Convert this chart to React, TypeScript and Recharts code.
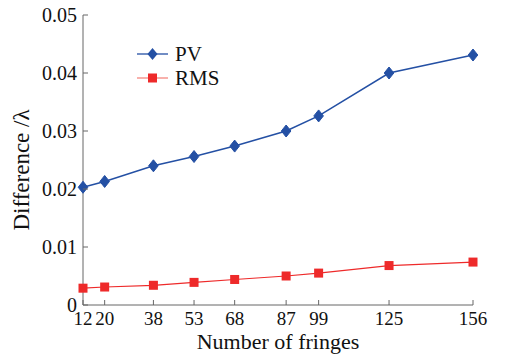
import { LineChart, Line, XAxis, YAxis, Legend } from "recharts";

const fringes = [12, 20, 38, 53, 68, 87, 99, 125, 156];
const pvValues = [0.0203, 0.0213, 0.024, 0.0256, 0.0274, 0.03, 0.0326, 0.04, 0.0431];
const rmsValues = [0.0029, 0.0031, 0.0034, 0.0039, 0.0044, 0.005, 0.0055, 0.0068, 0.0074];
const yTicks = [0, 0.01, 0.02, 0.03, 0.04, 0.05];
const yTickLabels = ["0", "0.01", "0.02", "0.03", "0.04", "0.05"];

const data = fringes.map((n, i) => ({ n, pv: pvValues[i], rms: rmsValues[i] }));

const FONT = "Liberation Serif, Times New Roman, serif";
const AXIS = "#666";
const BLUE = "#2450a4";
const RED = "#ee2a2a";

function BottomTick(props: any) {
  const { x, y, payload } = props;
  return (
    <g>
      <line x1={x} x2={x} y1={y} y2={y - 5} stroke={AXIS} />
      <text x={x} y={y + 20} textAnchor="middle" fontSize={19} fontFamily={FONT} fill="#111">
        {payload.value}
      </text>
    </g>
  );
}

function TopTick(props: any) {
  const { x, y } = props;
  return <line x1={x} x2={x} y1={y} y2={y + 5} stroke={AXIS} />;
}

function LeftTick(props: any) {
  const { x, y, payload, index } = props;
  return (
    <g>
      <line x1={x} x2={x + 5} y1={y} y2={y} stroke={AXIS} />
      <text x={x - 6} y={y} dy="0.35em" textAnchor="end" fontSize={20} fontFamily={FONT} fill="#111">
        {yTickLabels[index] ?? payload.value}
      </text>
    </g>
  );
}

function RightTick(props: any) {
  const { x, y } = props;
  return <line x1={x} x2={x - 5} y1={y} y2={y} stroke={AXIS} />;
}

function YLabel(props: any) {
  const vb = props.viewBox || { x: 0, y: 15, height: 290 };
  const cx = vb.x + 21;
  const cy = vb.y + vb.height / 2 + 10;
  return (
    <text
      x={cx}
      y={cy}
      transform={`rotate(-90, ${cx}, ${cy})`}
      textAnchor="middle"
      dy="0.35em"
      fontSize={23}
      fontFamily={FONT}
      fill="#111"
    >
      Difference /λ
    </text>
  );
}

function Diamond(props: any) {
  const { cx, cy } = props;
  if (cx == null || cy == null) return null;
  const r = 6;
  return (
    <polygon
      points={`${cx},${cy - r} ${cx + r * 0.8},${cy} ${cx},${cy + r} ${cx - r * 0.8},${cy}`}
      fill={BLUE}
      stroke={BLUE}
    />
  );
}

function Square(props: any) {
  const { cx, cy } = props;
  if (cx == null || cy == null) return null;
  return <rect x={cx - 4.5} y={cy - 4.5} width={9} height={9} fill={RED} />;
}

function LegendBox() {
  const rows = [
    { name: "PV", color: BLUE, marker: "diamond" },
    { name: "RMS", color: "#f4877f", marker: "square" },
  ];
  return (
    <div style={{ fontFamily: FONT, fontSize: 21, color: "#111", lineHeight: "24px" }}>
      {rows.map((r) => (
        <div key={r.name} style={{ display: "flex", alignItems: "center", height: 24 }}>
          <svg width={31} height={14} style={{ marginRight: 7, flexShrink: 0 }}>
            <line x1={0} x2={31} y1={7} y2={7} stroke={r.color} strokeWidth={1.3} />
            {r.marker === "diamond" ? (
              <polygon points="15.5,1 20.5,7 15.5,13 10.5,7" fill={BLUE} />
            ) : (
              <rect x={11} y={2.5} width={9} height={9} fill={RED} />
            )}
          </svg>
          <span>{r.name}</span>
        </div>
      ))}
    </div>
  );
}

export default function App() {
  return (
    <div style={{ position: "absolute", left: 0, top: 0, background: "#fff" }}>
      <LineChart
        width={505}
        height={354}
        data={data}
        margin={{ top: 15, right: 32, left: 0, bottom: 0 }}
      >
        <XAxis
          dataKey="n"
          type="number"
          domain={[12, 156]}
          ticks={fringes}
          interval={0}
          height={49}
          stroke={AXIS}
          tickSize={0}
          tickMargin={0}
          tickLine={false}
          tick={<BottomTick />}
          label={{
            value: "Number of fringes",
            position: "insideBottom",
            offset: 5,
            style: { fontFamily: FONT, fontSize: 22, fill: "#111" },
          }}
        />
        <XAxis
          xAxisId="top"
          dataKey="n"
          type="number"
          orientation="top"
          domain={[12, 156]}
          ticks={fringes}
          interval={0}
          height={0}
          stroke={AXIS}
          tickSize={0}
          tickMargin={0}
          tickLine={false}
          tick={<TopTick />}
        />
        <YAxis
          type="number"
          domain={[0, 0.05]}
          ticks={yTicks}
          interval={0}
          width={83}
          stroke={AXIS}
          tickSize={0}
          tickMargin={0}
          tickLine={false}
          tick={<LeftTick />}
          label={<YLabel />}
        />
        <YAxis
          yAxisId="right"
          orientation="right"
          type="number"
          domain={[0, 0.05]}
          ticks={yTicks}
          interval={0}
          width={0}
          stroke={AXIS}
          tickSize={0}
          tickMargin={0}
          tickLine={false}
          tick={<RightTick />}
        />
        <Legend
          layout="vertical"
          verticalAlign="middle"
          align="center"
          content={<LegendBox />}
          wrapperStyle={{ left: 137, top: 42, width: 120 }}
        />
        <Line
          dataKey="pv"
          name="PV"
          stroke={BLUE}
          strokeWidth={1.5}
          dot={<Diamond />}
          activeDot={false}
          isAnimationActive={false}
        />
        <Line
          dataKey="rms"
          name="RMS"
          stroke={RED}
          strokeWidth={1.2}
          dot={<Square />}
          activeDot={false}
          isAnimationActive={false}
        />
      </LineChart>
    </div>
  );
}
